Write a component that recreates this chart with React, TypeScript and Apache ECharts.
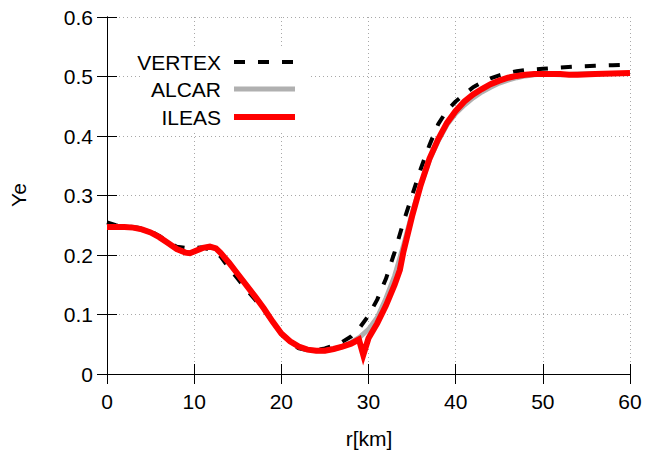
import React, { useEffect, useRef } from "react";
import * as echarts from "echarts";

const xTicks = [0, 10, 20, 30, 40, 50, 60];
const yTicks = [0, 0.1, 0.2, 0.3, 0.4, 0.5, 0.6];

const vertexR = [0, 1, 2, 3, 4, 5, 6, 7, 8, 9, 10, 11, 12, 13, 14, 15, 16, 17, 18, 19, 20, 21, 22, 23, 24, 25, 26, 27, 28, 29, 30, 31, 32, 33, 34, 35, 36, 37, 38, 39, 40, 41, 42, 43, 44, 45, 46, 47, 48, 50, 52, 54, 56, 58, 60];
const vertexYe = [0.255, 0.25, 0.248, 0.247, 0.245, 0.24, 0.232, 0.222, 0.214, 0.212, 0.212, 0.213, 0.208, 0.198, 0.178, 0.16, 0.142, 0.125, 0.107, 0.088, 0.067, 0.053, 0.043, 0.04, 0.04, 0.043, 0.048, 0.054, 0.063, 0.078, 0.098, 0.125, 0.16, 0.205, 0.255, 0.3, 0.345, 0.385, 0.42, 0.443, 0.458, 0.47, 0.482, 0.49, 0.497, 0.502, 0.506, 0.509, 0.511, 0.513, 0.515, 0.517, 0.518, 0.519, 0.52];

const alcarR = [0, 1, 2, 3, 4, 5, 6, 7, 8, 9, 9.5, 10, 11, 11.8, 12.5, 13, 14, 15, 16, 17, 18, 19, 20, 21, 22, 23, 24, 25, 26, 27, 28, 29, 30, 31, 32, 33, 34, 35, 36, 37, 38, 39, 40, 41, 42, 43, 44, 45, 46, 47, 48, 49, 50, 52, 54, 56, 58, 60];
const alcarYe = [0.247, 0.247, 0.247, 0.246, 0.243, 0.238, 0.23, 0.22, 0.21, 0.204, 0.203, 0.206, 0.212, 0.214, 0.211, 0.204, 0.187, 0.168, 0.149, 0.13, 0.11, 0.088, 0.068, 0.055, 0.046, 0.041, 0.039, 0.039, 0.042, 0.046, 0.053, 0.062, 0.075, 0.095, 0.127, 0.165, 0.215, 0.27, 0.318, 0.36, 0.392, 0.419, 0.438, 0.452, 0.464, 0.474, 0.482, 0.489, 0.494, 0.498, 0.501, 0.503, 0.504, 0.503, 0.504, 0.505, 0.505, 0.505];

const ileasR = [0, 1, 2, 3, 4, 5, 6, 7, 8, 9, 9.5, 10, 11, 11.8, 12.5, 13, 14, 15, 16, 17, 18, 19, 20, 21, 22, 23, 24, 25, 26, 27, 28, 28.9, 29.4, 30, 31, 32, 33, 33.6, 34, 35, 36, 37, 38, 39, 40, 41, 42, 43, 44, 45, 46, 47, 48, 49, 50, 52, 53, 54, 56, 58, 60];
const ileasYe = [0.247, 0.247, 0.247, 0.246, 0.243, 0.238, 0.23, 0.22, 0.21, 0.204, 0.203, 0.206, 0.212, 0.214, 0.211, 0.204, 0.187, 0.168, 0.149, 0.13, 0.11, 0.088, 0.068, 0.055, 0.046, 0.041, 0.039, 0.039, 0.042, 0.046, 0.051, 0.058, 0.032, 0.06, 0.085, 0.115, 0.15, 0.175, 0.205, 0.265, 0.318, 0.362, 0.395, 0.422, 0.442, 0.458, 0.47, 0.479, 0.487, 0.493, 0.498, 0.501, 0.503, 0.504, 0.504, 0.504, 0.503, 0.503, 0.504, 0.505, 0.506];

const seriesNames = ["VERTEX", "ALCAR", "ILEAS"];

const zip = (a: number[], b: number[]) => a.map((v, i) => [v, b[i]]);

const FONT = "'Liberation Sans', Arial, sans-serif";

export default function App() {
  const ref = useRef<HTMLDivElement>(null);
  useEffect(() => {
    if (!ref.current) return;
    const chart = echarts.init(ref.current, undefined, { renderer: "svg" });
    const gridL = 107, gridT = 17, gridW = 523, gridH = 357;
    const axisCommon = {
      axisLine: { show: true, lineStyle: { color: "#000", width: 1 } },
      axisTick: { show: true, inside: true, length: 10, lineStyle: { color: "#000", width: 1 } },
    };
    const legendY = [62, 89, 117];
    const legendStyles = [
      { stroke: "#000", lineWidth: 4, lineDash: [11, 13] },
      { stroke: "#b0b0b0", lineWidth: 5 },
      { stroke: "#ff0000", lineWidth: 6 },
    ];
    const graphic: any[] = [
      { type: "rect", z: 1, shape: { x: 142, y: 46, width: 168, height: 86 }, style: { fill: "#fff" } },
      { type: "text", z: 3, x: 369, y: 438, style: { text: "r[km]", font: `21px ${FONT}`, fill: "#000", align: "center", verticalAlign: "middle" } },
      { type: "text", z: 3, x: 18, y: 195, rotation: Math.PI / 2, style: { text: "Ye", font: `21px ${FONT}`, fill: "#000", align: "center", verticalAlign: "middle" } },
    ];
    seriesNames.forEach((n, i) => {
      graphic.push({ type: "text", z: 3, x: 221, y: legendY[i], style: { text: n, font: `21px ${FONT}`, fill: "#000", align: "right", verticalAlign: "middle" } });
      graphic.push({ type: "line", z: 3, shape: { x1: 234, y1: legendY[i], x2: 295, y2: legendY[i] }, style: { ...legendStyles[i], lineCap: "butt" } });
    });
    chart.setOption({
      animation: false,
      backgroundColor: "#fff",
      grid: { left: gridL, top: gridT, width: gridW, height: gridH, containLabel: false },
      xAxis: [
        {
          type: "value", min: xTicks[0], max: xTicks[xTicks.length - 1], interval: 10,
          ...axisCommon,
          axisLabel: { margin: 17, fontSize: 21, fontFamily: FONT, color: "#000" },
          splitLine: { show: true, lineStyle: { color: "#a8a8a8", width: 1, type: [1, 3] } },
        },
        {
          type: "value", position: "top", min: xTicks[0], max: xTicks[xTicks.length - 1], interval: 10,
          ...axisCommon, axisLabel: { show: false }, splitLine: { show: false },
        },
      ],
      yAxis: [
        {
          type: "value", min: yTicks[0], max: yTicks[yTicks.length - 1], interval: 0.1,
          ...axisCommon,
          axisLabel: { margin: 14, fontSize: 21, fontFamily: FONT, color: "#000", formatter: (v: number) => (v === 0 ? "0" : v.toFixed(1)) },
          splitLine: { show: true, lineStyle: { color: "#a8a8a8", width: 1, type: [1, 3] } },
        },
        {
          type: "value", position: "right", min: yTicks[0], max: yTicks[yTicks.length - 1], interval: 0.1,
          ...axisCommon, axisLabel: { show: false }, splitLine: { show: false },
        },
      ],
      graphic,
      series: [
        {
          name: seriesNames[0], type: "line", data: zip(vertexR, vertexYe), showSymbol: false, symbol: "none", z: 2,
          lineStyle: { color: "#000", width: 4, type: [11, 13], cap: "butt" },
        },
        {
          name: seriesNames[1], type: "line", data: zip(alcarR, alcarYe), showSymbol: false, symbol: "none", z: 3,
          lineStyle: { color: "#b0b0b0", width: 5 },
        },
        {
          name: seriesNames[2], type: "line", data: zip(ileasR, ileasYe), showSymbol: false, symbol: "none", z: 4,
          lineStyle: { color: "#ff0000", width: 6, join: "miter" },
        },
      ],
    });
    return () => chart.dispose();
  }, []);
  return <div ref={ref} style={{ width: 648, height: 455, position: "absolute", left: 0, top: 0 }} />;
}
